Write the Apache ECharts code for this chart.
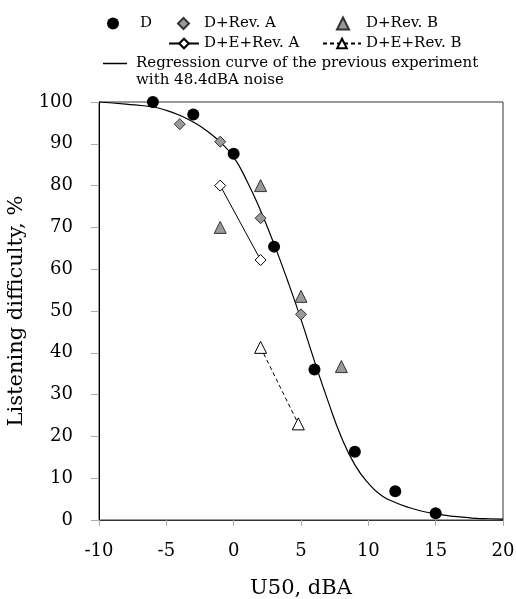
<!DOCTYPE html>
<html><head><meta charset="utf-8">
<script src="https://cdn.jsdelivr.net/npm/echarts@6/dist/echarts.min.js"></script>
<style>html,body{margin:0;padding:0;background:#fff}#c{width:516px;height:599px}</style>
</head><body><div id="c"></div>
<script>
// Data
var dX = [-6, -3, 0, 3, 6, 9, 12, 15];
var dY = [100, 97, 87.6, 65.4, 36, 16.3, 6.9, 1.6];
var revAX = [-4, -1, 2, 5];
var revAY = [94.7, 90.5, 72.2, 49.2];
var revBX = [-1, 2, 5, 8];
var revBY = [70, 80, 53.5, 36.7];
var eRevAX = [-1, 2];
var eRevAY = [80, 62.2];
var eRevBX = [2, 4.8];
var eRevBY = [41.3, 23];
var curveX = [-10, -8, -6, -5, -4, -3, -2, -1, 0, 1, 2, 3, 4, 5, 6, 7, 8, 9, 10, 11, 12, 13, 14, 15, 16, 17, 18, 19, 20];
var curveY = [100, 99.5, 98.8, 98, 96.8, 95.2, 93.1, 90.4, 86.8, 81, 74, 66, 57.3, 48, 38, 28.5, 19.8, 13.2, 8.8, 5.8, 4.2, 3, 2.1, 1.5, 1.0, 0.7, 0.4, 0.3, 0.2];
var xTicks = {min: -10, max: 20, step: 5};
var yTicks = {min: 0, max: 100, step: 10};
var names = ['D', 'D+Rev. A', 'D+Rev. B', 'D+E+Rev. A', 'D+E+Rev. B', 'Regression curve of the previous experiment'];
var noteLine2 = 'with 48.4dBA noise';

function pairs(xs, ys) { return xs.map(function (x, i) { return [x, ys[i]]; }); }

var FONT = 'DejaVu Serif';
function leg(name, left, top, w, h, padLeft, icon) {
  var o = {data: [name], left: left, top: top, itemWidth: w, itemHeight: h, itemGap: 0, padding: 0,
    textStyle: {fontFamily: FONT, fontSize: 15, color: '#000', padding: [0, 0, 0, padLeft]},
    selectedMode: false, orient: 'horizontal'};
  if (icon) { o.icon = icon; o.itemStyle = {color: '#000', borderWidth: 0}; }
  return o;
}

var chart = echarts.init(document.getElementById('c'), null, {renderer: 'canvas'});
chart.setOption({
  animation: false,
  backgroundColor: '#fff',
  grid: {left: 99, right: 13, top: 102, bottom: 79, show: true, borderColor: '#333', borderWidth: 1,
    containLabel: false, outerBoundsMode: 'none'},
  legend: [
    leg(names[0], 107, 16, 12, 12, 16),
    leg(names[1], 177, 16, 11, 11, 10),
    leg(names[2], 336, 16, 12, 12, 12),
    leg(names[3], 168, 36, 30, 12, 0),
    leg(names[4], 322, 36, 38, 12, 0),
    leg(names[5], 103, 56, 24, 1.5, 4, 'rect')
  ],
  graphic: [{type: 'text', left: 136, top: 73, style: {text: noteLine2, font: '15px "DejaVu Serif"', fill: '#000'}}],
  xAxis: {
    type: 'value', min: xTicks.min, max: xTicks.max, interval: xTicks.step,
    name: 'U50, dBA', nameLocation: 'middle', nameGap: 58,
    nameTextStyle: {fontFamily: FONT, fontSize: 21, color: '#000'},
    axisLine: {onZero: false, lineStyle: {color: '#333', width: 1}},
    axisTick: {show: true, length: 6, lineStyle: {color: '#aaa'}},
    axisLabel: {fontFamily: FONT, fontSize: 18, color: '#000', margin: 22},
    splitLine: {show: false}
  },
  yAxis: {
    type: 'value', min: yTicks.min, max: yTicks.max, interval: yTicks.step,
    name: 'Listening difficulty, %', nameLocation: 'middle', nameGap: 72,
    nameTextStyle: {fontFamily: FONT, fontSize: 21, color: '#000'},
    axisLine: {show: true, onZero: false, lineStyle: {color: '#000', width: 1}},
    axisTick: {show: true, length: 8, lineStyle: {color: '#aaa'}},
    axisLabel: {fontFamily: FONT, fontSize: 18, color: '#000', margin: 26},
    splitLine: {show: false}
  },
  series: [
    {name: names[5], type: 'line', smooth: true, symbol: 'none', data: pairs(curveX, curveY),
      lineStyle: {color: '#000', width: 1.2}, itemStyle: {color: '#000'}, z: 1},
    {name: names[0], type: 'scatter', symbol: 'circle', symbolSize: 12, data: pairs(dX, dY),
      itemStyle: {color: '#000', opacity: 1}, z: 5},
    {name: names[1], type: 'scatter', symbol: 'diamond', symbolSize: 11, data: pairs(revAX, revAY),
      itemStyle: {color: '#999', borderColor: '#333', borderWidth: 1, opacity: 1}, z: 5},
    {name: names[2], type: 'scatter', symbol: 'triangle', symbolSize: 12, data: pairs(revBX, revBY),
      itemStyle: {color: '#999', borderColor: '#333', borderWidth: 1, opacity: 1}, z: 5},
    {name: names[3], type: 'line', symbol: 'diamond', symbolSize: 11, data: pairs(eRevAX, eRevAY),
      lineStyle: {color: '#000', width: 1}, itemStyle: {color: '#fff', borderColor: '#000', borderWidth: 1}, z: 4},
    {name: names[4], type: 'line', symbol: 'triangle', symbolSize: 12, data: pairs(eRevBX, eRevBY),
      lineStyle: {color: '#000', width: 1, type: [4, 3]}, itemStyle: {color: '#fff', borderColor: '#000', borderWidth: 1}, z: 4}
  ]
});
</script></body></html>
